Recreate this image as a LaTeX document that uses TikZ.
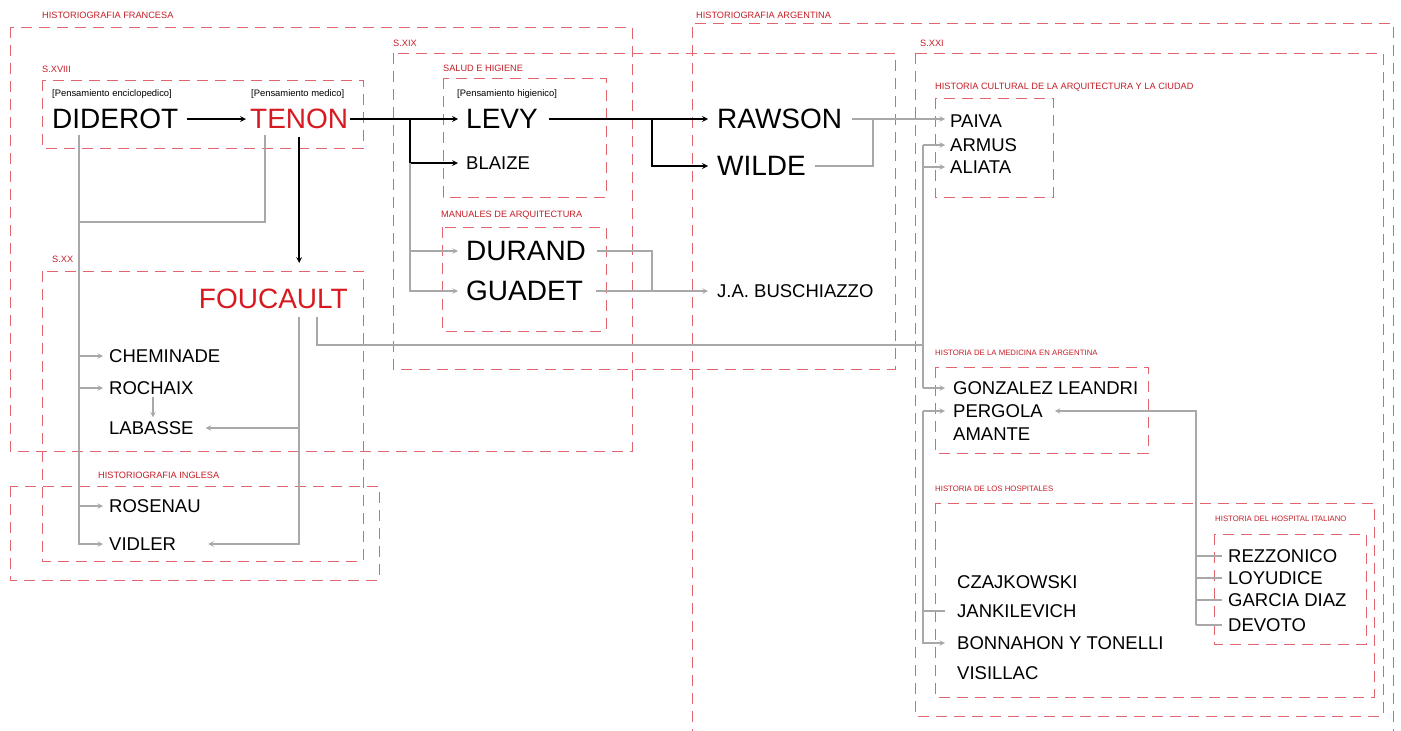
\documentclass[tikz,border=0pt]{standalone}
\usepackage{fontspec}
\setmainfont{Liberation Sans}
\usetikzlibrary{arrows,positioning,calc}
\definecolor{zonered}{RGB}{226,100,110}
\definecolor{tagred}{RGB}{196,30,40}
\definecolor{namered}{RGB}{215,25,32}
\definecolor{linegray}{RGB}{168,168,168}

\begin{document}
\begin{tikzpicture}[
    x=1pt, y=-1pt,
    big/.style={anchor=west, inner sep=0pt, text depth=0pt, font=\fontsize{28}{30}\selectfont},
    person/.style={anchor=west, inner sep=0pt, text depth=0pt, font=\fontsize{18.5}{20}\selectfont},
    note/.style={anchor=west, inner sep=0pt, text depth=0pt, font=\fontsize{9.4}{11}\selectfont},
    tag/.style={anchor=west, inner sep=0pt, text depth=0pt, text=tagred, font=\fontsize{9.2}{11}\selectfont},
    smalltag/.style={tag, font=\fontsize{7.8}{9}\selectfont},
    zone/.style={draw=zonered, line width=0.9pt, dash pattern=on 11pt off 7pt},
    blk/.style={draw=black, line width=1.6pt, >=stealth},
    gry/.style={draw=linegray, line width=1.4pt, >=stealth}
]
\useasboundingbox (0,0) rectangle (1401,731);

% Zones
\draw[zone] (10,27) rectangle (632,451);
\draw[zone] (42,80) rectangle (363,148);
\draw[zone] (42,271) rectangle (363,561);
\draw[zone] (10,486) rectangle (379,580);
\draw[zone] (393,53) rectangle (895,369);
\draw[zone] (443,78) rectangle (606,197);
\draw[zone] (442,227) rectangle (606,331);
\draw[zone] (692,740) -- (692,23) -- (1393,23) -- (1393,740);
\draw[zone] (915,53) rectangle (1383,716);
\draw[zone] (935,98) rectangle (1053,197);
\draw[zone] (935,367) rectangle (1148,453);
\draw[zone] (935,503) rectangle (1374,697);
\draw[zone] (1214,534) rectangle (1366,644);

% Zone labels
\node[tag] (tFrancesa) at (42,15) {HISTORIOGRAFIA FRANCESA};
\node[tag] (tXVIII) at (42,69) {S.XVIII};
\node[tag] (tXX) at (52,259) {S.XX};
\node[tag] (tInglesa) at (98,475) {HISTORIOGRAFIA INGLESA};
\node[tag] (tXIX) at (393,43) {S.XIX};
\node[tag] (tSalud) at (443,68) {SALUD E HIGIENE};
\node[tag] (tManuales) at (441,214) {MANUALES DE ARQUITECTURA};
\node[tag] (tArgentina) at (696,15) {HISTORIOGRAFIA ARGENTINA};
\node[tag] (tXXI) at (920,43) {S.XXI};
\node[tag] (tCultural) at (935,86) {HISTORIA CULTURAL DE LA ARQUITECTURA Y LA CIUDAD};
\node[smalltag] (tMedicina) at (935,353) {HISTORIA DE LA MEDICINA EN ARGENTINA};
\node[smalltag] (tHospitales) at (935,489) {HISTORIA DE LOS HOSPITALES};
\node[smalltag] (tItaliano) at (1215,519) {HISTORIA DEL HOSPITAL ITALIANO};

% Notes
\node[note] (nEnciclo) at (52,93) {[Pensamiento enciclopedico]};
\node[note] (nMedico) at (251,93) {[Pensamiento medico]};
\node[note] (nHigiene) at (457,93) {[Pensamiento higienico]};

% Main authors
\node[big] (diderot) at (52,119) {DIDEROT};
\node[big, text=namered] (tenon) at (250,119) {TENON};
\node[big] (levy) at (466,119) {LEVY};
\node[big] (rawson) at (717,119) {RAWSON};
\node[big] (wilde) at (717,166) {WILDE};
\node[big] (durand) at (466,251) {DURAND};
\node[big] (guadet) at (466,291) {GUADET};
\node[big, text=namered, anchor=east] (foucault) at (348,299) {FOUCAULT};

% Other authors
\node[person] (blaize) at (466,163) {BLAIZE};
\node[person] (buschiazzo) at (717,291) {J.A. BUSCHIAZZO};
\node[person] (cheminade) at (109,356) {CHEMINADE};
\node[person] (rochaix) at (109,388) {ROCHAIX};
\node[person] (labasse) at (109,428) {LABASSE};
\node[person] (rosenau) at (109,506) {ROSENAU};
\node[person] (vidler) at (109,544) {VIDLER};
\node[person] (paiva) at (950,121) {PAIVA};
\node[person] (armus) at (950,145) {ARMUS};
\node[person] (aliata) at (950,167) {ALIATA};
\node[person] (gonzalez) at (953,388) {GONZALEZ LEANDRI};
\node[person] (pergola) at (953,411) {PERGOLA};
\node[person] (amante) at (953,434) {AMANTE};
\node[person] (czajkowski) at (957,582) {CZAJKOWSKI};
\node[person] (jankilevich) at (957,611) {JANKILEVICH};
\node[person] (bonnahon) at (957,643) {BONNAHON Y TONELLI};
\node[person] (visillac) at (957,673) {VISILLAC};
\node[person] (rezzonico) at (1228,556) {REZZONICO};
\node[person] (loyudice) at (1228,578) {LOYUDICE};
\node[person] (garcia) at (1228,600) {GARCIA DIAZ};
\node[person] (devoto) at (1228,625) {DEVOTO};

% Junctions
\coordinate (jTenon) at (410,119);
\coordinate (jLevy) at (652,119);
\coordinate (jRW) at (873,119);
\coordinate (jDid) at (79,135);
\coordinate (jTen) at (265,135);
\coordinate (jMeet) at (79,222);
\coordinate (jRoc) at (153,0);
\coordinate (jFou) at (299,317);
\coordinate (jFou2) at (317,317);
\coordinate (jArg) at (923,0);
\coordinate (jFouArg) at (923,345);
\coordinate (jIta) at (1196,0);

% Black links
\draw[blk,->] ([xshift=9pt]diderot.east) -- ([xshift=-4pt]tenon.west);
\draw[blk,->] ([xshift=2pt]tenon.east) -- ([xshift=-8pt]levy.west);
\draw[blk,->] (jTenon) |- ([xshift=-8pt]blaize.west);
\draw[blk,->] ([xshift=11pt]levy.east) -- ([xshift=-9pt]rawson.west);
\draw[blk,->] (jLevy) |- ([xshift=-9pt]wilde.west);
\draw[blk,->,shorten <=8pt,shorten >=26pt] (tenon.south) -- (tenon.south |- foucault.north);

% Gray links, S.XIX
\draw[gry,->] (jTenon |- blaize.west) |- ([xshift=-8pt]guadet.west);
\draw[gry,->] (jTenon |- durand.west) -- ([xshift=-8pt]durand.west);
\draw[gry] ([xshift=11pt]durand.east) -| (jLevy |- guadet.west);
\draw[gry,->] ([xshift=13pt]guadet.east) -- ([xshift=-9pt]buschiazzo.west);
\draw[gry,->,shorten >=5pt] ([xshift=10pt]rawson.east) -- (rawson.east -| paiva.west);
\draw[gry] ([xshift=9pt]wilde.east) -| (jRW);

% Gray links, France
\draw[gry,->,shorten >=6pt] (jDid) |- (vidler.west);
\foreach \n in {cheminade,rochaix,rosenau}
    \draw[gry,->,shorten >=6pt] (jDid |- \n.west) -- (\n.west);
\draw[gry] (jTen) |- (jMeet);
\draw[gry,->,shorten <=2pt,shorten >=4pt] (jRoc |- rochaix.south) -- (jRoc |- labasse.north);
\draw[gry,->,shorten >=32pt] (jFou) |- (vidler.east);
\draw[gry,->,shorten >=12pt] (jFou |- labasse.east) -- (labasse.east);
\draw[gry] (jFou2) |- (jFouArg);

% Gray links, Argentina
\draw[gry] (jArg |- armus.west) -- (jArg |- gonzalez.west);
\draw[gry,->,shorten >=5pt] (jArg |- armus.west) -- (armus.west);
\draw[gry,->,shorten >=5pt] (jArg |- aliata.west) -- (aliata.west);
\draw[gry,->,shorten >=8pt] (jArg |- gonzalez.west) -- (gonzalez.west);
\draw[gry,->,shorten >=8pt] (jArg |- pergola.west) -- (pergola.west);
\draw[gry,->,shorten >=12pt] (jArg |- pergola.west) |- (bonnahon.west);
\draw[gry,shorten >=12pt] (jArg |- jankilevich.west) -- (jankilevich.west);
\draw[gry,->,shorten >=12pt] (jIta |- devoto.west) |- (pergola.east);
\foreach \n in {rezzonico,loyudice,garcia,devoto}
    \draw[gry,shorten >=6pt] (jIta |- \n.west) -- (\n.west);

\end{tikzpicture}
\end{document}
